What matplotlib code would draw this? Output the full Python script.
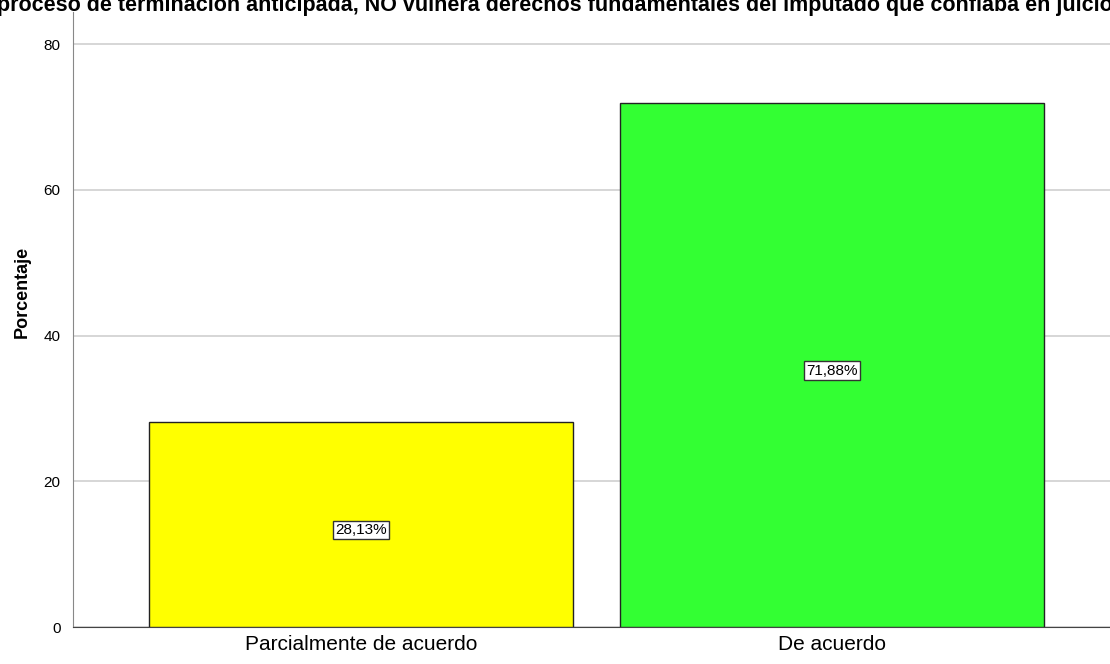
import numpy as np
import matplotlib
matplotlib.use("Agg")
import matplotlib.pyplot as plt

categories = ["Parcialmente de acuerdo", "De acuerdo"]
percentages = [28.13, 71.88]
bar_colors = ["#FFFF00", "#33FF33"]
title = "proceso de terminación anticipada, NO vulnera derechos fundamentales del imputado que confiaba en juicio"

plt.rcParams['font.family'] = ['Liberation Sans', 'DejaVu Sans']

fig = plt.figure(figsize=(11.1, 6.64), dpi=100)
ax = fig.add_axes([0.0658, 0.0557, 0.9342, 0.926])

x = np.arange(len(categories))
ax.bar(x, percentages, width=0.9, color=bar_colors, edgecolor="#222222", linewidth=1.0, zorder=3)

for xi, v in zip(x, percentages):
    ax.annotate(f"{v:.2f}%".replace(".", ","), (xi, v / 2), xytext=(0, -4), textcoords="offset points",
                ha="center", va="center", fontsize=11,
                bbox=dict(boxstyle="square,pad=0.15", facecolor="white", edgecolor="#333333", linewidth=1.0),
                zorder=4)

ax.set_xlim(-0.611, 1.59)
ax.set_ylim(0, 84.4)
ax.set_yticks([0, 20, 40, 60, 80])
ax.set_xticks(x)
ax.set_xticklabels(categories, fontsize=15)
ax.tick_params(axis="y", labelsize=11, length=0, pad=9)
ax.tick_params(axis="x", length=0, pad=6)
ax.yaxis.grid(True, color="#d0d0d0", linewidth=1.2, zorder=0)
ax.set_axisbelow(True)
for s in ["top", "right"]:
    ax.spines[s].set_visible(False)
ax.spines["left"].set_color("#888888")
ax.spines["bottom"].set_color("#444444")

ax.set_ylabel("Porcentaje", fontsize=13, fontweight="bold")
ax.yaxis.set_label_coords(-0.041, 0.545)
fig.text(0.5, 1 - 11 / 664, title, ha="center", va="baseline", fontsize=15.5, fontweight="bold")

fig.savefig("out.png", dpi=100)
